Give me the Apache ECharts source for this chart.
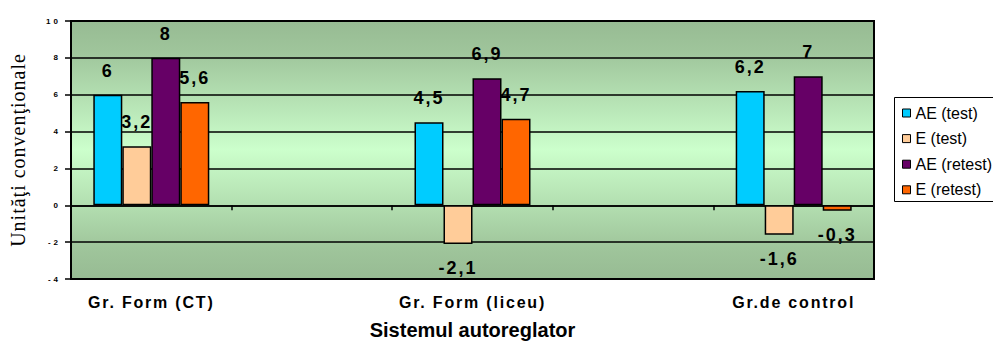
<!DOCTYPE html>
<html>
<head>
<meta charset="utf-8">
<title>Sistemul autoreglator</title>
<script src="https://cdn.jsdelivr.net/npm/echarts@6/dist/echarts.min.js"></script>
<style>
  html, body { margin: 0; padding: 0; background: #ffffff; overflow: hidden; }
  #chart { width: 993px; height: 345px; }
  /* spaced-out lettering of the axis texts and value labels */
  #chart text[style*="font-size: 8px"] { letter-spacing: 3px; }
  #chart text[style*="font-size: 16px"][style*="bold"] { letter-spacing: 1.8px; }
  #chart text[style*="font-size: 18px"] { letter-spacing: 2px; }
  #chart text[style*="Serif"] { letter-spacing: 1px; }
</style>
</head>
<body>
<div id="chart"></div>
<script>
// Groups on the category axis (the empty slots keep the wide spacing between groups)
const categories = ['Gr. Form (CT)', '', 'Gr. Form (liceu)', '', 'Gr.de control'];
const seriesNames = ['AE (test)', 'E (test)', 'AE (retest)', 'E (retest)'];
const seriesColors = ['#00ccff', '#ffcc99', '#660066', '#ff6600'];

// Values per group (null = empty slot)
const aeTest   = [6,   null, 4.5,  null, 6.2];
const eTest    = [3.2, null, -2.1, null, -1.6];
const aeRetest = [8,   null, 6.9,  null, 7];
const eRetest  = [5.6, null, 4.7,  null, -0.3];

// Value axis scale
const yMin = -4;
const yMax = 10;
const yStep = 2;

const yTitle = 'Unităţi convenţionale';
const xTitle = 'Sistemul autoreglator';

const seriesValues = [aeTest, eTest, aeRetest, eRetest];

const SANS = "'Liberation Sans', Arial, sans-serif";
const SERIF = "'Liberation Serif', 'Times New Roman', serif";

const fmt = v => String(v).replace('.', ',');

function buildSeries(name, values, color) {
  return {
    name: name,
    type: 'bar',
    xAxisIndex: 0,
    barWidth: 29,
    barGap: '0%',
    itemStyle: { color: color, borderColor: '#000', borderWidth: 1.5 },
    label: {
      show: true,
      distance: 15,
      color: '#000',
      fontFamily: SANS,
      fontWeight: 'bold',
      fontSize: 18,
      formatter: p => fmt(p.value)
    },
    data: values.map(v => v === null ? '-' : {
      value: v,
      label: { position: v < 0 ? 'bottom' : 'top' }
    })
  };
}

const chartDom = document.getElementById('chart');
const chart = echarts.init(chartDom, null, { renderer: 'svg' });

chart.setOption({
  animation: false,
  backgroundColor: '#ffffff',
  textStyle: { fontFamily: SANS },
  grid: {
    left: 71, right: 119, top: 21, bottom: 66,
    outerBoundsMode: 'none',
    containLabel: false,
    show: true,
    borderColor: '#000',
    borderWidth: 2,
    backgroundColor: {
      type: 'linear', x: 0, y: 0, x2: 0, y2: 1,
      colorStops: [
        { offset: 0, color: '#97bb93' },
        { offset: 0.12, color: '#9fc59b' },
        { offset: 0.5, color: '#ccffcc' },
        { offset: 0.88, color: '#9fc59b' },
        { offset: 1, color: '#97bb93' }
      ]
    }
  },
  // legend frame, open past the right edge of the page
  graphic: [
    {
      type: 'rect', z: 0, silent: true,
      shape: { x: 894.5, y: 97.5, width: 110, height: 104 },
      style: { fill: '#ffffff', stroke: null }
    },
    {
      type: 'polyline', z: 1, silent: true,
      shape: { points: [[1005, 97.5], [894.5, 97.5], [894.5, 201.5], [1005, 201.5]] },
      style: { fill: null, stroke: '#000', lineWidth: 1 }
    }
  ],
  legend: {
    orient: 'vertical',
    left: 894,
    top: 97,
    z: 10,
    padding: [8, 0, 8, 8],
    itemWidth: 8,
    itemHeight: 8,
    itemGap: 9.6,
    icon: 'rect',
    itemStyle: { borderColor: '#000', borderWidth: 1 },
    textStyle: { fontFamily: SANS, fontSize: 16, lineHeight: 16, color: '#000' },
    data: seriesNames
  },
  xAxis: [
    {
      type: 'category',
      data: categories,
      axisLine: { onZero: true, lineStyle: { color: '#000', width: 1.5 } },
      axisTick: { show: true, length: 5, lineStyle: { color: '#000', width: 1.5 } },
      axisLabel: { show: false },
      splitLine: { show: false }
    },
    {
      type: 'category',
      data: categories,
      position: 'bottom',
      axisLine: { show: false, onZero: false },
      axisTick: { show: false },
      axisLabel: {
        show: true, margin: 15, color: '#000', fontFamily: SANS,
        fontWeight: 'bold', fontSize: 16, interval: 0
      },
      name: xTitle,
      nameLocation: 'middle',
      nameGap: 41,
      nameTextStyle: { color: '#000', fontFamily: SANS, fontWeight: 'bold', fontSize: 20 }
    }
  ],
  yAxis: {
    type: 'value',
    min: yMin,
    max: yMax,
    interval: yStep,
    axisLine: { show: true, lineStyle: { color: '#000', width: 2 } },
    axisTick: { show: true, length: 6, lineStyle: { color: '#000', width: 1.5 } },
    axisLabel: { color: '#000', fontFamily: SANS, fontWeight: 'bold', fontSize: 8, margin: 10 },
    splitLine: { show: true, lineStyle: { color: '#000', width: 1.5 } },
    name: yTitle,
    nameLocation: 'middle',
    nameRotate: 90,
    nameGap: 43,
    nameTextStyle: { color: '#000', fontSize: 20, fontFamily: SERIF }
  },
  series: seriesNames.map((n, i) => buildSeries(n, seriesValues[i], seriesColors[i]))
});
</script>
</body>
</html>
